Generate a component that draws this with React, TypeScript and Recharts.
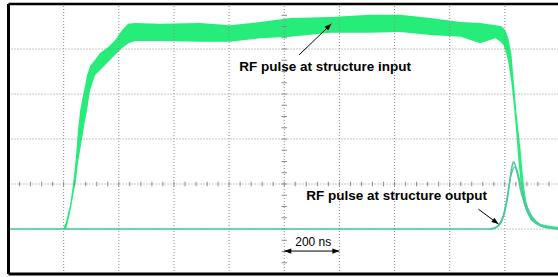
import {
  Area,
  ComposedChart,
  Line,
  ReferenceDot,
  ReferenceLine,
  XAxis,
  YAxis,
} from 'recharts';

// time in ns, amplitude in screen divisions (baseline = 0)
const gridTimes = [200, 400, 600, 800, 1000, 1200, 1400, 1600, 1800];
const gridLevels = [0, 1, 2, 3, 4];

const inputTime = [
  200, 209, 216, 223, 230, 238, 245, 252, 260, 267,
  278, 285, 296, 314, 332, 361, 387, 412, 434, 459,
  550, 695, 804, 913, 1022, 1167, 1312, 1421, 1530, 1639,
  1711, 1766, 1784, 1795, 1806, 1813, 1824, 1835, 1842, 1849,
  1857, 1864, 1871, 1879, 1893, 1911, 1929, 1962, 2000,
];
const inputHigh = [
  0.03, 0.16, 0.36, 0.53, 0.82, 1.2, 1.64, 2.2, 2.64, 2.87,
  3.2, 3.42, 3.62, 3.76, 3.91, 4.04, 4.2, 4.42, 4.56, 4.58,
  4.56, 4.58, 4.53, 4.6, 4.69, 4.71, 4.76, 4.76, 4.69, 4.6,
  4.58, 4.53, 4.51, 4.47, 4.36, 4.24, 3.87, 3.09, 2.6, 2.2,
  1.76, 1.27, 0.87, 0.58, 0.31, 0.18, 0.11, 0.07, 0.04,
];
const inputLow = [
  0, 0, 0.16, 0.36, 0.58, 0.87, 1.09, 1.47, 1.76, 2.02,
  2.42, 2.64, 3.09, 3.42, 3.53, 3.71, 3.87, 4.02, 4.12, 4.18,
  4.18, 4.16, 4.16, 4.24, 4.27, 4.36, 4.36, 4.38, 4.31, 4.27,
  4.13, 4.24, 4.16, 4.09, 3.87, 3.69, 3.24, 2.6, 2.09, 1.53,
  1.04, 0.69, 0.51, 0.38, 0.2, 0.11, 0.07, 0.02, 0,
];

const output1Time = [
  0, 1748, 1766, 1777, 1788, 1795, 1802, 1810, 1817, 1824,
  1828, 1831, 1835, 1842, 1849, 1857, 1868, 1879, 1893, 1911,
  1929, 1958, 2000,
];
const output1Level = [
  0, 0, 0.02, 0.09, 0.2, 0.31, 0.49, 0.76, 1.04, 1.33,
  1.44, 1.49, 1.47, 1.31, 1.13, 0.87, 0.64, 0.42, 0.27, 0.14,
  0.07, 0.02, 0,
];
const output2Time = [1748, 1777, 1795, 1810, 1820, 1828, 1835, 1842, 1849, 1860, 1871, 1882, 1897, 1915, 1937, 1962, 2000];
const output2Level = [0, 0.07, 0.27, 0.69, 1.13, 1.3, 1.38, 1.33, 1.2, 0.93, 0.67, 0.47, 0.29, 0.16, 0.07, 0.02, 0];

// minor graticule ticks on the centre axes
const minorTimes = Array.from({ length: 51 }, (_, i) => i * 40);
const minorLevels = Array.from({ length: 25 }, (_, i) => -1 + i * 0.25);

const inputData = inputTime.map((t, i) => ({ t, band: [inputLow[i], inputHigh[i]] }));
const output1Data = output1Time.map((t, i) => ({ t, v: output1Level[i] }));
const output2Data = output2Time.map((t, i) => ({ t, v: output2Level[i] }));

const FONT = '"Liberation Sans", Arial, sans-serif';
const GRID = '#8c8c8c';
const GREEN = '#26ed79';

function head(x: number, y: number, a: number) {
  const L = 7;
  const W = 2.6;
  const bx = x - L * Math.cos(a);
  const by = y - L * Math.sin(a);
  return `${x},${y} ${bx + W * Math.sin(a)},${by - W * Math.cos(a)} ${bx - W * Math.sin(a)},${by + W * Math.cos(a)}`;
}

function arrowShape(double: boolean) {
  return (p: any) => {
    const { x1, y1, x2, y2 } = p;
    const a = Math.atan2(y2 - y1, x2 - x1);
    return (
      <g>
        <line x1={x1} y1={y1} x2={x2} y2={y2} stroke="#000" strokeWidth={1} />
        <polygon points={head(x2, y2, a)} fill="#000" />
        {double && <polygon points={head(x1, y1, a + Math.PI)} fill="#000" />}
      </g>
    );
  };
}

function textShape(label: string, bold: boolean, size: number) {
  return (p: any) => (
    <text x={p.cx} y={p.cy} fontFamily={FONT} fontSize={size} fontWeight={bold ? 700 : 400} fill="#000">
      {label}
    </text>
  );
}

export default function App() {
  return (
    <div style={{ position: 'absolute', left: 0, top: 0, width: 558, height: 277, overflow: 'hidden', background: '#fff' }}>
      <ComposedChart width={560} height={277} margin={{ top: 4, right: 0, bottom: 3, left: 8.5 }}>
        <XAxis
          type="number"
          dataKey="t"
          domain={[0, 2000]}
          height={0}
          tick={false}
          tickLine={false}
          axisLine={false}
          allowDataOverflow
        />
        <YAxis
          type="number"
          domain={[-1, 5]}
          width={0}
          tick={false}
          tickLine={false}
          axisLine={false}
          allowDataOverflow
        />
        {gridTimes.map((t) => (
          <ReferenceLine key={`gx${t}`} x={t} stroke={GRID} strokeDasharray="1 2" />
        ))}
        {gridLevels.map((v) => (
          <ReferenceLine key={`gy${v}`} y={v} stroke={GRID} strokeDasharray="1 2" />
        ))}
        {minorTimes.map((t) => (
          <ReferenceLine key={`mt${t}`} segment={[{ x: t, y: 0.95 }, { x: t, y: 1.05 }]} stroke={GRID} />
        ))}
        {minorLevels.map((v) => (
          <ReferenceLine key={`mv${v}`} segment={[{ x: 990, y: v }, { x: 1010, y: v }]} stroke={GRID} />
        ))}
        <Line data={output1Data} dataKey="v" type="monotone" stroke="#4cc79c" strokeWidth={1.5} dot={false} activeDot={false} isAnimationActive={false} />
        <Line data={output2Data} dataKey="v" type="monotone" stroke="#4cc79c" strokeWidth={1.3} dot={false} activeDot={false} isAnimationActive={false} />
        <Area
          data={inputData}
          dataKey="band"
          type="linear"
          fill={GREEN}
          fillOpacity={1}
          stroke="none"
          dot={false}
          activeDot={false}
          isAnimationActive={false}
        />
        <ReferenceLine x={0} stroke="#000" strokeWidth={3} />
        <ReferenceLine y={5} stroke="#000" strokeWidth={2.5} />
        <ReferenceLine y={-1} stroke="#000" strokeWidth={3} />
        <ReferenceLine segment={[{ x: 1054, y: 3.87 }, { x: 1171, y: 4.56 }]} shape={arrowShape(false)} />
        <ReferenceLine segment={[{ x: 1704, y: 0.44 }, { x: 1777, y: 0.11 }]} shape={arrowShape(false)} />
        <ReferenceLine segment={[{ x: 1000, y: -0.49 }, { x: 1200, y: -0.49 }]} shape={arrowShape(true)} />
        <ReferenceDot x={837} y={3.51} r={1} shape={textShape('RF pulse at structure input', true, 13.5)} />
        <ReferenceDot x={1080} y={0.64} r={1} shape={textShape('RF pulse at structure output', true, 13.5)} />
        <ReferenceDot x={1040} y={-0.38} r={1} shape={textShape('200 ns', false, 12)} />
      </ComposedChart>
    </div>
  );
}
